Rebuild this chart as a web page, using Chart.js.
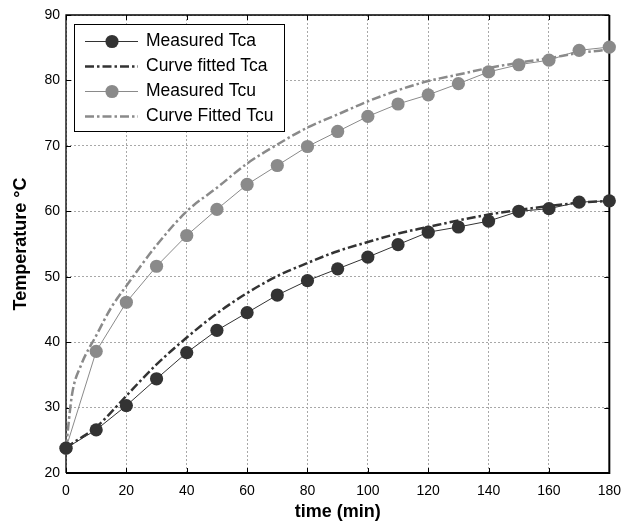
<!DOCTYPE html>
<html>
<head>
<meta charset="utf-8">
<script src="https://cdn.jsdelivr.net/npm/chart.js@4/dist/chart.umd.min.js"></script>
<style>
  html, body { margin: 0; padding: 0; background: #ffffff; }
  canvas { display: block; }
</style>
</head>
<body>
<canvas id="chart" width="631" height="525"></canvas>
<script>
// Measured temperatures (every 10 min)
const timeMeasured = [0, 10, 20, 30, 40, 50, 60, 70, 80, 90, 100, 110, 120, 130, 140, 150, 160, 170, 180];
const tcaMeasured = [23.8, 26.6, 30.3, 34.4, 38.4, 41.8, 44.5, 47.2, 49.4, 51.2, 53.0, 54.9, 56.8, 57.6, 58.5, 60.0, 60.4, 61.4, 61.6];
const tcuMeasured = [23.8, 38.6, 46.1, 51.6, 56.3, 60.3, 64.1, 67.0, 69.9, 72.2, 74.5, 76.4, 77.8, 79.5, 81.3, 82.4, 83.1, 84.6, 85.1];

// Fitted curves
const timeFitted = [0, 2, 5, 10, 15, 20, 30, 40, 50, 60, 70, 80, 90, 100, 110, 120, 130, 140, 150, 160, 170, 180];
const tcaFitted = [23.8, 24.5, 25.4, 27.0, 29.3, 31.8, 36.6, 40.7, 44.4, 47.5, 50.1, 52.1, 53.9, 55.3, 56.6, 57.6, 58.6, 59.5, 60.2, 60.8, 61.3, 61.6];
const tcuFitted = [23.8, 32.0, 36.5, 41.0, 45.3, 48.6, 54.8, 60.0, 63.6, 67.3, 70.2, 72.8, 74.8, 76.8, 78.5, 79.9, 80.9, 81.9, 82.7, 83.4, 84.2, 84.7];

const seriesNames = ['Measured Tca', 'Curve fitted Tca', 'Measured Tcu', 'Curve Fitted Tcu'];
const xTicks = [0, 20, 40, 60, 80, 100, 120, 140, 160, 180];
const yTicks = [20, 30, 40, 50, 60, 70, 80, 90];

const DARK = '#333333';
const GREY = '#8a8a8a';
const DASHDOT = [9, 3, 2.5, 3];
const FONT = '"Liberation Sans", Arial, sans-serif';

const pairs = (xs, ys) => xs.map((x, i) => ({ x, y: ys[i] }));

// Frame, inward tick marks, and the boxed legend
const framePlugin = {
  id: 'frame',
  beforeDatasetsDraw(chart) {
    const { ctx, chartArea: a, scales: { x, y } } = chart;
    ctx.save();
    ctx.strokeStyle = '#000';
    ctx.lineWidth = 1;
    xTicks.forEach(v => {
      const px = Math.round(x.getPixelForValue(v)) + 0.5;
      ctx.beginPath();
      ctx.moveTo(px, a.bottom); ctx.lineTo(px, a.bottom - 5);
      ctx.moveTo(px, a.top); ctx.lineTo(px, a.top + 5);
      ctx.stroke();
    });
    yTicks.forEach(v => {
      const py = Math.round(y.getPixelForValue(v)) + 0.5;
      ctx.beginPath();
      ctx.moveTo(a.left, py); ctx.lineTo(a.left + 5, py);
      ctx.moveTo(a.right, py); ctx.lineTo(a.right - 5, py);
      ctx.stroke();
    });
    ctx.lineWidth = 1.3;
    ctx.beginPath();
    ctx.moveTo(a.left, a.bottom); ctx.lineTo(a.left, a.top); ctx.lineTo(a.right, a.top);
    ctx.stroke();
    ctx.lineWidth = 2;
    ctx.beginPath();
    ctx.moveTo(a.left, a.bottom); ctx.lineTo(a.right, a.bottom); ctx.lineTo(a.right, a.top);
    ctx.stroke();
    ctx.restore();
  },
  afterDatasetsDraw(chart) {
    const { ctx } = chart;
    const box = { left: 74, top: 24, right: 284, bottom: 131 };
    ctx.save();
    ctx.fillStyle = '#fff';
    ctx.fillRect(box.left, box.top, box.right - box.left, box.bottom - box.top);
    ctx.strokeStyle = '#000';
    ctx.lineWidth = 1;
    ctx.strokeRect(box.left + 0.5, box.top + 0.5, box.right - box.left, box.bottom - box.top);
    const rowY = [41.5, 66.5, 91.5, 116.5];
    chart.data.datasets.forEach((ds, i) => {
      const yy = rowY[i];
      ctx.save();
      ctx.strokeStyle = ds.borderColor;
      ctx.lineWidth = ds.borderWidth;
      ctx.setLineDash(ds.borderDash || []);
      ctx.beginPath();
      ctx.moveTo(85, yy); ctx.lineTo(138, yy);
      ctx.stroke();
      ctx.restore();
      if (ds.pointRadius > 0) {
        ctx.fillStyle = ds.pointBackgroundColor;
        ctx.beginPath();
        ctx.arc(112, yy, ds.pointRadius, 0, Math.PI * 2);
        ctx.fill();
      }
      ctx.fillStyle = '#000';
      ctx.font = '17.5px ' + FONT;
      ctx.textBaseline = 'middle';
      ctx.textAlign = 'left';
      ctx.fillText(ds.label, 146, yy);
    });
    ctx.restore();
  }
};

new Chart(document.getElementById('chart'), {
  type: 'scatter',
  data: {
    datasets: [
      {
        label: seriesNames[0],
        data: pairs(timeMeasured, tcaMeasured),
        showLine: true,
        borderColor: DARK,
        borderWidth: 1,
        pointRadius: 6.6,
        pointBackgroundColor: DARK,
        pointBorderWidth: 0,
        clip: false
      },
      {
        label: seriesNames[1],
        data: pairs(timeFitted, tcaFitted),
        showLine: true,
        borderColor: DARK,
        borderWidth: 2.5,
        borderDash: DASHDOT,
        cubicInterpolationMode: 'monotone',
        pointRadius: 0,
        clip: false
      },
      {
        label: seriesNames[2],
        data: pairs(timeMeasured, tcuMeasured),
        showLine: true,
        borderColor: GREY,
        borderWidth: 1,
        pointRadius: 6.6,
        pointBackgroundColor: GREY,
        pointBorderWidth: 0,
        clip: false
      },
      {
        label: seriesNames[3],
        data: pairs(timeFitted, tcuFitted),
        showLine: true,
        borderColor: GREY,
        borderWidth: 2.5,
        borderDash: DASHDOT,
        cubicInterpolationMode: 'monotone',
        pointRadius: 0,
        clip: false
      }
    ]
  },
  options: {
    responsive: false,
    animation: false,
    devicePixelRatio: 1,
    layout: { padding: { top: 15, right: 19, left: 0, bottom: 0 } },
    plugins: { legend: { display: false }, tooltip: { enabled: false } },
    scales: {
      x: {
        type: 'linear',
        min: 0, max: 180,
        afterFit(s) { s.height = 52; },
        afterBuildTicks(s) { s.ticks = xTicks.map(v => ({ value: v })); },
        grid: { color: '#a8a8a8', lineWidth: 1, drawTicks: false },
        border: { display: false, dash: [2, 2] },
        ticks: { padding: 10, color: '#000', font: { family: FONT, size: 14 }, maxRotation: 0 },
        title: { display: true, text: 'time (min)', color: '#000', font: { family: FONT, size: 18, weight: 'bold' }, padding: { top: 0, bottom: 2 } }
      },
      y: {
        type: 'linear',
        min: 20, max: 90,
        afterFit(s) { s.width = 66; },
        afterBuildTicks(s) { s.ticks = yTicks.map(v => ({ value: v })); },
        grid: { color: '#a8a8a8', lineWidth: 1, drawTicks: false },
        border: { display: false, dash: [2, 2] },
        ticks: { padding: 6, color: '#000', font: { family: FONT, size: 14 } },
        title: { display: true, text: 'Temperature °C', color: '#000', font: { family: FONT, size: 18, weight: 'bold' }, padding: { top: 10, bottom: 0 } }
      }
    }
  },
  plugins: [framePlugin]
});
</script>
</body>
</html>
